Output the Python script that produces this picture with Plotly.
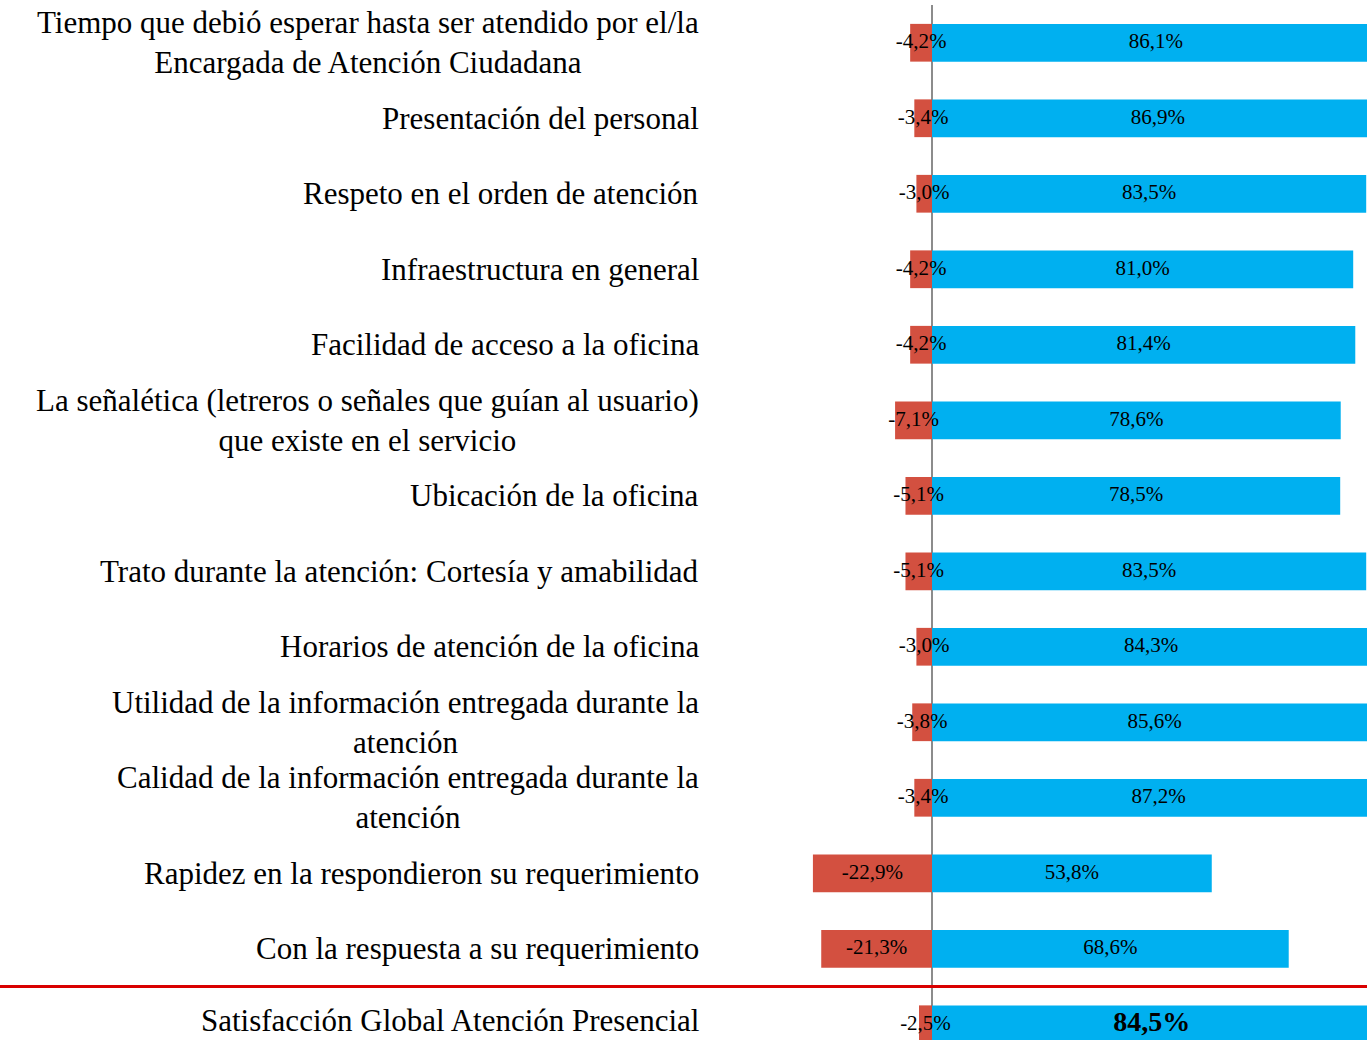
import plotly.graph_objects as go

categories = [
    "Tiempo que debió esperar hasta ser atendido por el/la<br>Encargada de Atención Ciudadana",
    "Presentación del personal",
    "Respeto en el orden de atención",
    "Infraestructura en general",
    "Facilidad de acceso a la oficina",
    "La señalética (letreros o señales que guían al usuario)<br>que existe en el servicio",
    "Ubicación de la oficina",
    "Trato durante la atención: Cortesía y amabilidad",
    "Horarios de atención de la oficina",
    "Utilidad de la información entregada durante la<br>atención",
    "Calidad de la información entregada durante la<br>atención",
    "Rapidez en la respondieron su requerimiento",
    "Con la respuesta a su requerimiento",
    "Satisfacción Global Atención Presencial",
]
negative = [-4.2, -3.4, -3.0, -4.2, -4.2, -7.1, -5.1, -5.1, -3.0, -3.8, -3.4, -22.9, -21.3, -2.5]
positive = [86.1, 86.9, 83.5, 81.0, 81.4, 78.6, 78.5, 83.5, 84.3, 85.6, 87.2, 53.8, 68.6, 84.5]

W, H = 1367, 1040
ML, MT, MB, MR = 710, 5, 0, 0
FONT = "Liberation Serif"
BLUE = "#00B0F0"
RED = "#D35040"

n = len(categories)
plot_w = W - ML - MR
plot_h = H - MT - MB
px_per_pct = 5.2
x_min = -(932 - ML) / px_per_pct
x_max = (W - MR - 932) / px_per_pct
row_px = 75.5
y_top = -0.5
y_bottom = y_top + plot_h / row_px

def fmt(v):
    return f"{v:.1f}%".replace(".", ",")

fig = go.Figure()
fig.add_trace(go.Bar(y=categories, x=negative, orientation="h", marker=dict(color=RED, line=dict(width=0)),
                     width=0.5, hoverinfo="skip", showlegend=False))
fig.add_trace(go.Bar(y=categories, x=positive, orientation="h", marker=dict(color=BLUE, line=dict(width=0)),
                     width=0.5, hoverinfo="skip", showlegend=False))

neg_text = [fmt(v) for v in negative]
pos_text = [fmt(v) for v in positive]
pos_text[-1] = "<b>" + pos_text[-1] + "</b>"
pos_sizes = [21] * (n - 1) + [28]

fig.add_trace(go.Scatter(y=categories, x=[v / 2 for v in negative], mode="text", text=neg_text,
                         textposition="middle center", textfont=dict(family=FONT, size=21, color="black"),
                         hoverinfo="skip", showlegend=False))
fig.add_trace(go.Scatter(y=categories, x=[v / 2 for v in positive], mode="text", text=pos_text,
                         textposition="middle center", textfont=dict(family=FONT, size=pos_sizes, color="black"),
                         hoverinfo="skip", showlegend=False))

# category labels (centered multi-line, right-aligned block)
for i, c in enumerate(categories):
    fig.add_annotation(x=(701 - ML) / plot_w, xref="paper", y=c, yref="y", text=c, showarrow=False,
                       xanchor="right", yanchor="middle", align="center",
                       yshift=4 if i == n - 1 else 0,
                       font=dict(family=FONT, size=31, color="black"))

# separator line before the global row
sep_y = (y_bottom - (n - 1.5)) / (y_bottom - y_top)
fig.add_shape(type="line", xref="paper", yref="paper", x0=-ML / plot_w, x1=1, y0=sep_y, y1=sep_y,
              line=dict(color="#D90000", width=3))

fig.update_layout(
    width=W, height=H, autosize=False,
    margin=dict(l=ML, r=MR, t=MT, b=MB, pad=0),
    paper_bgcolor="white", plot_bgcolor="white",
    barmode="relative", bargap=0.5,
    font=dict(family=FONT, size=21, color="black"),
    xaxis=dict(range=[x_min, x_max], showgrid=False, showticklabels=False, ticks="",
               zeroline=True, zerolinecolor="#8C8C8C", zerolinewidth=2, showline=False, layer="above traces"),
    yaxis=dict(type="category", categoryorder="array", categoryarray=categories,
               range=[y_bottom, y_top], showgrid=False, showticklabels=False, ticks="",
               zeroline=False, showline=False),
)

fig.write_html("out.html", config={"displayModeBar": False},
               post_script="document.body.style.margin='0';document.body.style.overflow='hidden';")
